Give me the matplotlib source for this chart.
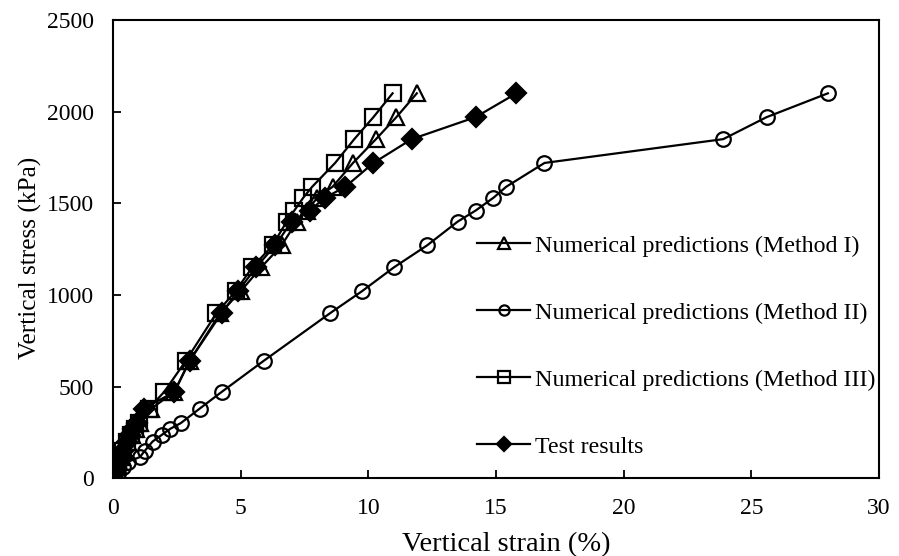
import matplotlib
matplotlib.use("Agg")
import matplotlib.pyplot as plt

plt.rcParams['font.family'] = ['Liberation Serif', 'DejaVu Serif']

stress = [0, 30, 60, 90, 115, 150, 200, 235, 270, 300, 380, 470, 640, 900, 1020,
          1150, 1270, 1400, 1460, 1530, 1590, 1720, 1850, 1970, 2100]

strain_m1 = [0, 0.08, 0.15, 0.25, 0.35, 0.45, 0.6, 0.75, 0.9, 1.05, 1.5, 2.4, 3.0, 4.2, 5.0,
             5.8, 6.6, 7.2, 7.6, 8.0, 8.6, 9.4, 10.3, 11.1, 11.9]
strain_m2 = [0, 0.2, 0.4, 0.6, 1.05, 1.25, 1.55, 1.9, 2.25, 2.65, 3.4, 4.25, 5.9, 8.5, 9.75,
             11.0, 12.3, 13.5, 14.2, 14.9, 15.4, 16.9, 23.9, 25.6, 28.0]
strain_m3 = [0, 0.05, 0.1, 0.2, 0.3, 0.4, 0.55, 0.7, 0.85, 1.0, 1.4, 2.0, 2.85, 4.05, 4.8,
             5.45, 6.25, 6.8, 7.1, 7.45, 7.8, 8.7, 9.45, 10.2, 10.95]
strain_test = [0, 0.07, 0.12, 0.2, 0.3, 0.4, 0.55, 0.65, 0.8, 0.95, 1.2, 2.4, 3.0, 4.25, 4.9,
               5.6, 6.35, 7.0, 7.7, 8.3, 9.1, 10.2, 11.7, 14.2, 15.8]

labels = ["Numerical predictions (Method I)", "Numerical predictions (Method II)",
          "Numerical predictions (Method III)", "Test results"]
xticks = [0, 5, 10, 15, 20, 25, 30]
yticks = [0, 500, 1000, 1500, 2000, 2500]

fig = plt.figure(figsize=(8.99, 5.56), dpi=100)
ax = fig.add_axes([0.1257, 0.140, 0.852, 0.824])

kw = dict(color='black', lw=1.6, mew=1.6)
ax.plot(strain_m1, stress, marker='^', ms=12, mfc='none', label=labels[0], **kw)
ax.plot(strain_m2, stress, marker='o', ms=10.5, mfc='none', label=labels[1], **kw)
ax.plot(strain_m3, stress, marker='s', ms=12, mfc='none', label=labels[2], **kw)
ax.plot(strain_test, stress, marker='D', ms=10, mfc='black', label=labels[3], **kw)

ax.set_xlim(0, 30)
ax.set_ylim(0, 2500)
ax.set_xticks(xticks)
ax.set_yticks(yticks)
ax.tick_params(direction='in', length=6, width=1.3, labelsize=17, pad=14)
for s in ax.spines.values():
    s.set_linewidth(1.5)

ax.set_xlabel("Vertical strain (%)", fontsize=20.5)
ax.set_ylabel("Vertical stress (kPa)", fontsize=18.2)
ax.xaxis.set_label_coords(0.513, -0.118)
ax.yaxis.set_label_coords(-0.0927, 0.480)

ax.legend(loc='upper left', bbox_to_anchor=(0.4752, 0.531), frameon=False, fontsize=17.3,
          labelspacing=1.88, handlelength=2.22, handletextpad=0.2, markerscale=0.7,
          borderpad=0, borderaxespad=0)

fig.savefig("out.png", dpi=100)
